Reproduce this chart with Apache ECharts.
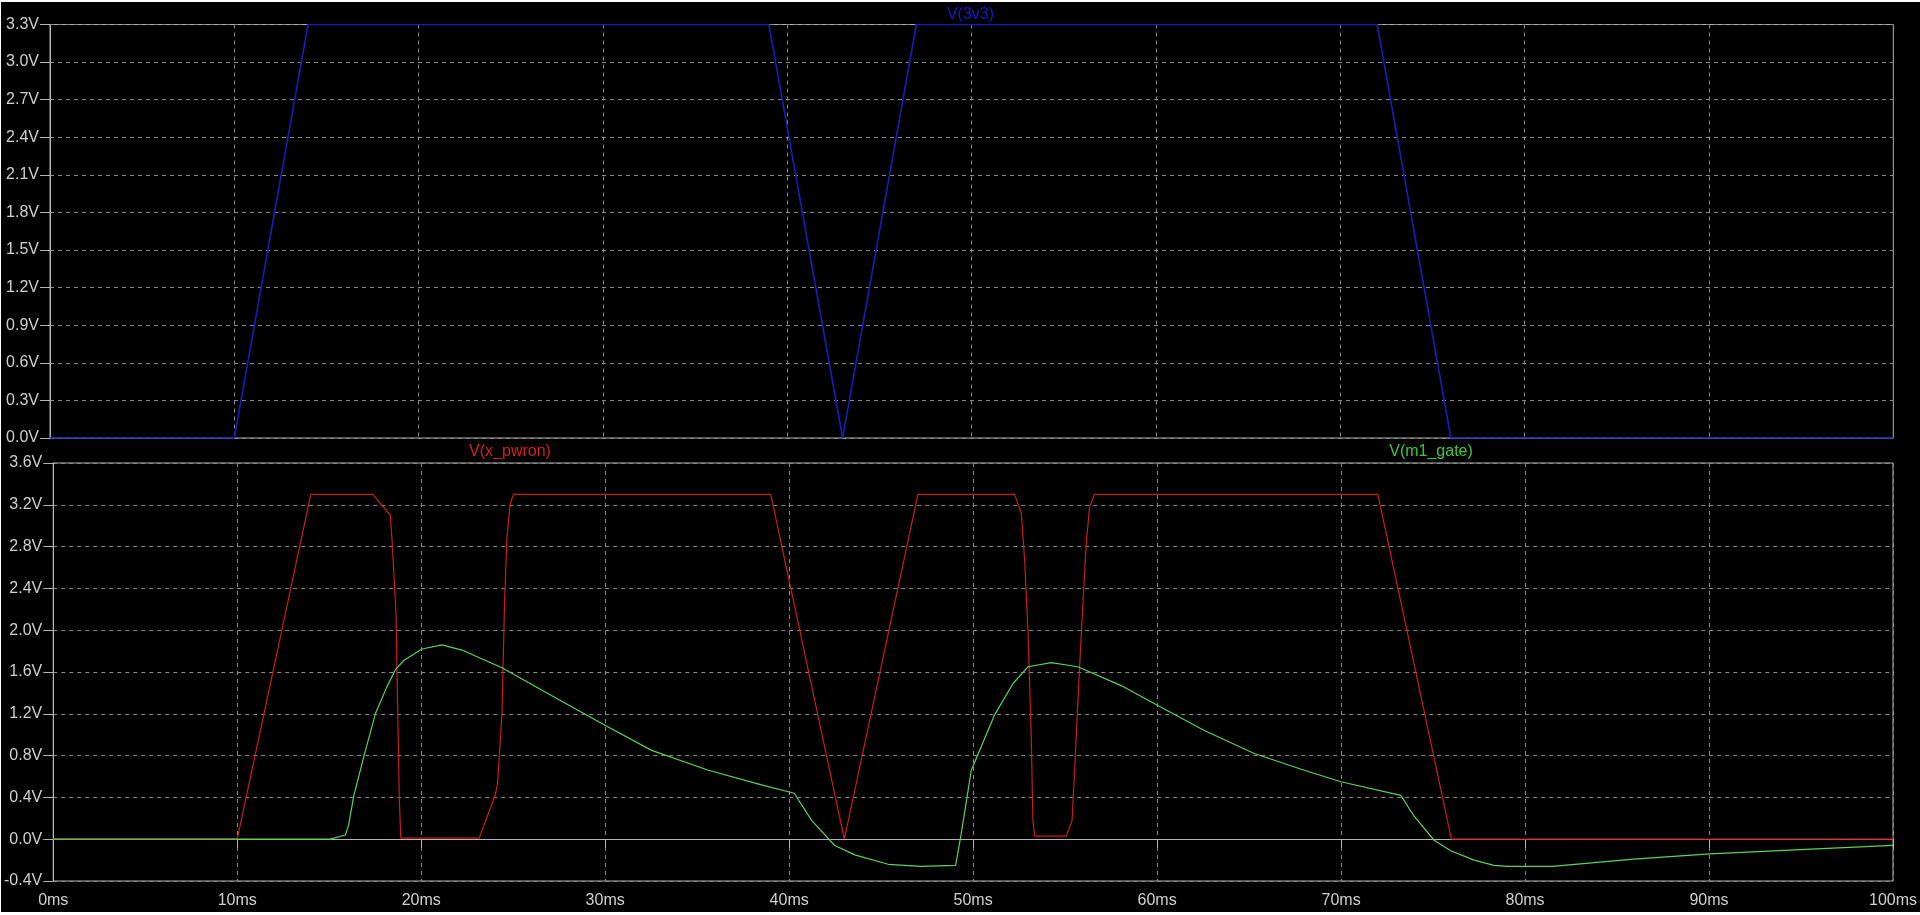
<!DOCTYPE html>
<html>
<head>
<meta charset="utf-8">
<script src="https://cdn.jsdelivr.net/npm/echarts@6/dist/echarts.min.js"></script>
<style>
html,body{margin:0;padding:0;background:#ffffff;width:1920px;height:915px;overflow:hidden;}
#chart{position:absolute;left:1px;top:2px;width:1919px;height:910px;}
</style>
</head>
<body>
<div id="chart"></div>
<script>
// ---- data (time in ms, value in V) ----
const xTicks = [0,10,20,30,40,50,60,70,80,90,100];

const v3v3_t = [0,10,14,39,43,47,72,76,100];
const v3v3_v = [0,0,3.3,3.3,0,3.3,3.3,0,0];

const pwron_t = [0,10,14,17.37,18.32,18.42,18.63,18.81,18.89,23.15,24.02,24.15,24.39,24.53,24.66,24.84,25.02,39,43,47,52.25,52.62,52.80,52.98,53.16,53.25,53.34,55.07,55.38,55.56,55.78,55.97,56.15,56.33,56.60,72,76,100];
const pwron_v = [0,0,3.3,3.3,3.10,2.85,2.16,0.39,0.01,0.01,0.42,0.53,1.2,2.26,2.89,3.21,3.3,3.3,0,3.3,3.3,3.12,2.67,2.0,0.98,0.18,0.03,0.03,0.18,0.82,1.62,2.26,2.83,3.18,3.3,3.3,0,0];

const gate_t = [0,15.05,15.88,16.06,16.33,16.88,17.51,18.14,18.59,19.05,20.04,21.13,22.21,24.39,27.64,29.99,32.53,35.61,38.5,40.28,41.22,42.48,43.57,45.38,47.19,49.05,49.36,49.9,51.17,52.17,52.98,54.25,55.69,58.05,60.04,62.57,65.28,68.0,69.99,73.25,73.97,75.06,75.96,77.23,78.31,79.04,81.48,85.91,90.04,94.96,100];
const gate_v = [0,0,0.04,0.14,0.41,0.79,1.2,1.46,1.62,1.71,1.82,1.86,1.81,1.64,1.32,1.09,0.85,0.66,0.52,0.44,0.18,-0.06,-0.15,-0.24,-0.26,-0.25,0.06,0.66,1.19,1.49,1.65,1.69,1.65,1.47,1.28,1.04,0.82,0.66,0.55,0.42,0.22,-0.01,-0.11,-0.20,-0.25,-0.26,-0.26,-0.19,-0.14,-0.10,-0.06];

const names = ['V(3v3)','V(x_pwron)','V(m1_gate)'];

function pairs(t, v){ return t.map((x,i)=>[x, v[i]]); }

const chart = echarts.init(document.getElementById('chart'), null, {renderer:'canvas'});
const FONT = 'Liberation Sans';
const labelColor = '#d0d0d0';
const gridLine = {show:true, lineStyle:{color:'#8c8c8c', type:[4,4], width:1}};

const option = {
  backgroundColor:'#000000',
  animation:false,
  grid:[
    {left:49, top:22.5, right:26.7, height:413.5, show:true, borderColor:'#b4b4b4', borderWidth:1, backgroundColor:'transparent'},
    {left:49, top:461, right:26.7, height:418, show:true, borderColor:'#b4b4b4', borderWidth:1, backgroundColor:'transparent'}
  ],
  xAxis:[
    {type:'value', gridIndex:0, min:0, max:100, interval:10,
     axisLine:{show:false}, axisTick:{show:false}, axisLabel:{show:false}, splitLine:gridLine},
    {type:'value', gridIndex:1, min:0, max:100, interval:10,
     axisLine:{show:true, lineStyle:{color:'#b4b4b4'}},
     axisTick:{show:true, length:9, inside:false, lineStyle:{color:'#b4b4b4'}},
     axisLabel:{show:true, color:labelColor, fontFamily:FONT, fontSize:16, margin:12,
       formatter:(v)=>v+'ms'},
     splitLine:gridLine}
  ],
  yAxis:[
    {type:'value', gridIndex:0, min:0, max:3.3, interval:0.3,
     axisLine:{show:true, lineStyle:{color:'#b4b4b4'}},
     axisTick:{show:true, length:10, inside:false, lineStyle:{color:'#b4b4b4'}},
     axisLabel:{show:true, color:labelColor, fontFamily:FONT, fontSize:16, margin:11,
       formatter:(v)=>v.toFixed(1)+'V'},
     splitLine:gridLine},
    {type:'value', gridIndex:1, min:-0.4, max:3.6, interval:0.4,
     axisLine:{show:true, lineStyle:{color:'#b4b4b4'}},
     axisTick:{show:true, length:10, inside:false, lineStyle:{color:'#b4b4b4'}},
     axisLabel:{show:true, color:labelColor, fontFamily:FONT, fontSize:16, margin:11,
       formatter:(v)=>v.toFixed(1)+'V'},
     splitLine:gridLine}
  ],
  graphic:[
    {type:'text', x:969.5, y:12.5, style:{text:names[0], fill:'#1a1ac4', font:'16px "Liberation Sans"', textAlign:'center', textVerticalAlign:'middle'}},
    {type:'text', x:509, y:450, style:{text:names[1], fill:'#d42020', font:'16px "Liberation Sans"', textAlign:'center', textVerticalAlign:'middle'}},
    {type:'text', x:1430, y:450, style:{text:names[2], fill:'#3cc83c', font:'16px "Liberation Sans"', textAlign:'center', textVerticalAlign:'middle'}}
  ],
  series:[
    {name:names[0], type:'line', xAxisIndex:0, yAxisIndex:0, data:pairs(v3v3_t, v3v3_v),
     showSymbol:false, symbol:'none', lineStyle:{color:'#1c1cb4', width:1.6}, z:3},
    {name:names[1], type:'line', xAxisIndex:1, yAxisIndex:1, data:pairs(pwron_t, pwron_v),
     showSymbol:false, symbol:'none', lineStyle:{color:'#c81e1e', width:1.2}, z:3},
    {name:names[2], type:'line', xAxisIndex:1, yAxisIndex:1, data:pairs(gate_t, gate_v),
     showSymbol:false, symbol:'none', lineStyle:{color:'#5ad25a', width:1.2}, z:4}
  ]
};
chart.setOption(option);
</script>
</body>
</html>
